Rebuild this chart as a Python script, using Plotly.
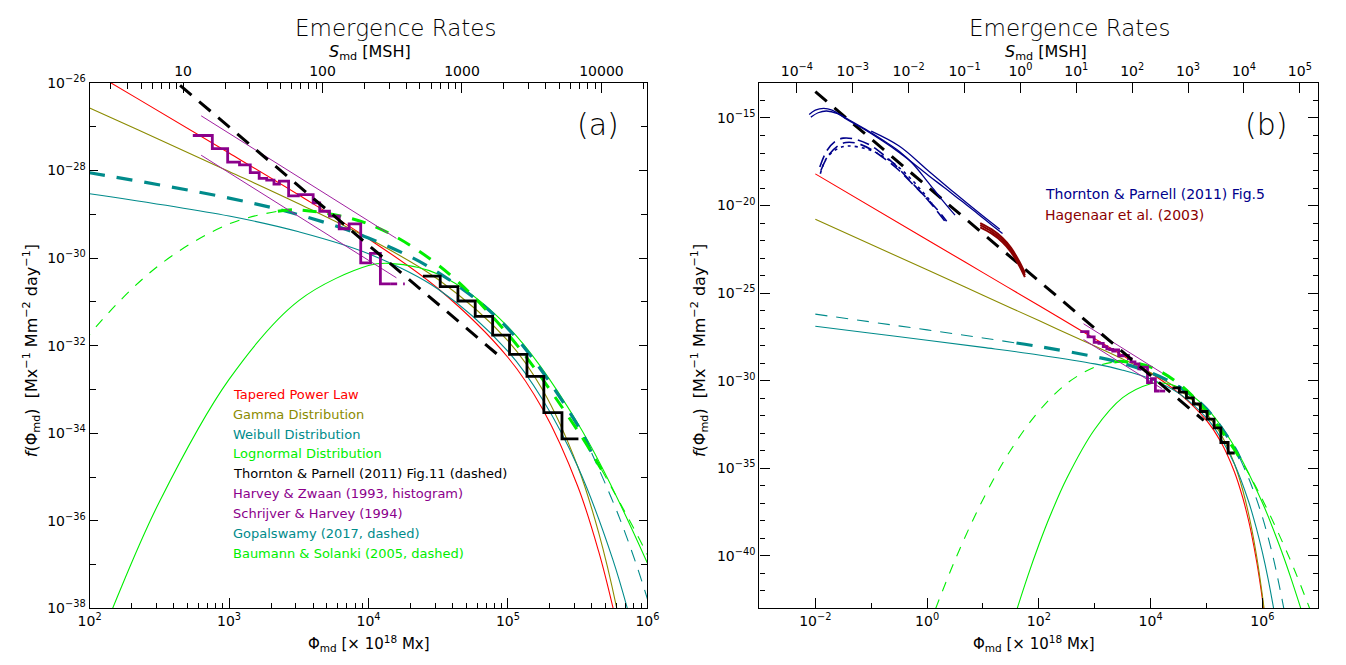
import plotly.graph_objects as go

W, H = 1346, 665
FONT = "DejaVu Sans"

# ---------------- values (log10 of Φ in 1e18 Mx, log10 of f) ----------------
# Tapered power law fit
tpl_log_phi = [-2.0, 0.0, 1.0, 2.0, 3.0, 3.5, 4.0, 4.5, 5.0, 5.25, 5.5, 5.65, 5.75, 5.8, 5.9, 6.0, 6.05]
tpl_log_f = [-18.19, -21.95, -23.83, -25.71, -27.60, -28.56, -29.56, -30.70, -32.27, -33.46, -35.21,
             -36.70, -37.95, -38.68, -40.38, -42.47, -43.69]
# Gamma distribution fit
gam_log_phi = [-2.0, 0.0, 1.0, 2.0, 3.0, 3.5, 4.0, 4.5, 5.0, 5.25, 5.5, 5.65, 5.78, 5.9, 6.0, 6.05]
gam_log_f = [-20.78, -23.67, -25.12, -26.57, -28.02, -28.76, -29.55, -30.49, -31.89, -33.02, -34.76,
             -36.27, -38.00, -40.08, -42.27, -43.55]
# Weibull distribution fit
wei_log_phi = [-2.0, -1.0, 0.0, 1.0, 2.0, 3.0, 3.5, 4.0, 4.5, 5.0, 5.25, 5.5, 5.75, 5.9, 6.0, 6.1, 6.2]
wei_log_f = [-26.89, -27.29, -27.69, -28.10, -28.53, -29.04, -29.40, -29.90, -30.71, -32.13, -33.24,
             -34.76, -36.87, -38.52, -39.81, -41.29, -42.99]
# Lognormal distribution fit
lgn_log_phi = [1.6, 1.8, 2.0, 2.2, 2.5, 3.0, 3.5, 4.0, 4.15, 4.5, 5.0, 5.5, 6.0, 6.3, 6.5, 6.7]
lgn_log_f = [-43.13, -41.17, -39.37, -37.73, -35.57, -32.77, -30.97, -30.17, -30.12, -30.37, -31.57,
             -33.77, -36.97, -39.37, -41.17, -43.13]
# Baumann & Solanki (2005); thick part = observed range
bs_log_phi = [0.15, 0.5, 1.0, 1.5, 2.0, 2.5, 3.0, 3.35, 3.5, 4.0, 4.5, 5.0, 5.5, 5.67, 6.0, 6.5, 6.85]
bs_log_f = [-43.04, -40.24, -36.78, -33.94, -31.74, -30.16, -29.22, -28.93, -28.90, -29.22, -30.16,
            -31.74, -33.94, -34.83, -36.78, -40.24, -43.04]
bs_range = (3.35, 5.67)
# Gopalswamy (2017); thick part = observed range
gop_log_phi = [-2.0, 0.0, 1.0, 1.6, 2.0, 3.0, 3.5, 4.0, 4.5, 5.0, 5.5, 5.6, 5.8, 6.0, 6.2, 6.4]
gop_log_f = [-26.20, -27.10, -27.56, -27.85, -28.05, -28.63, -29.01, -29.54, -30.33, -31.61, -33.82,
             -34.45, -35.94, -37.79, -40.19, -43.28]
gop_range = (1.6, 5.6)
# Thornton & Parnell (2011) Fig.11 power law
tp11_log_phi = [-2.0, 4.95]
tp11_log_f = [-13.50, -32.27]
# Schrijver & Harvey (1994) bounding lines
sh_log_phi = [2.8, 4.2]
sh_upper_log_f = [-26.75, -29.55]
sh_lower_log_f = [-27.65, -30.45]
# Harvey & Zwaan (1993) histogram
hz_edges = [2.74, 2.88, 2.99, 3.075, 3.152, 3.216, 3.27, 3.322, 3.361, 3.427, 3.497, 3.603, 3.65,
            3.72, 3.79, 3.861, 3.944, 4.014, 4.085, 4.155]
hz_levels = [-27.20, -27.50, -27.81, -27.87, -28.05, -28.18, -28.22, -28.31, -28.24, -28.58, -28.55,
             -28.74, -28.93, -29.04, -29.33, -29.22, -30.11, -29.89, -30.59]
hz_tail_log_phi = [4.155, 4.26]
hz_tail_log_f = [-30.59, -30.59]
# Large-region histogram (black staircase)
st_edges = [4.39, 4.514, 4.641, 4.765, 4.89, 5.011, 5.136, 5.257, 5.387, 5.505]
st_levels = [-30.41, -30.65, -30.98, -31.33, -31.76, -32.20, -32.70, -33.53, -34.13]
# Thornton & Parnell (2011) Fig.5 curves
tp5_a_log_phi = [-2.11, -2.0, -1.85, -1.7, -1.45, -1.15, -0.85, -0.55, -0.26, 0.03, 0.3, 0.6, 0.9, 1.15, 1.35]
tp5_a_log_f = [-14.80, -14.55, -14.45, -14.55, -15.05, -15.60, -16.20, -16.85, -17.55, -18.30, -18.95,
               -19.70, -20.45, -21.10, -21.60]
tp5_b_log_phi = [-2.08, -1.95, -1.8, -1.6, -1.4, -1.1, -0.8, -0.5, -0.26, 0.0, 0.25, 0.5]
tp5_b_log_f = [-14.95, -14.70, -14.60, -14.75, -15.10, -15.65, -16.25, -16.90, -17.60, -18.60, -19.60, -20.55]
tp5_c_log_phi = [-1.0, -0.5, 0.0, 0.5, 1.0, 1.3]
tp5_c_log_f = [-15.75, -16.60, -17.95, -19.30, -20.60, -21.35]
tp5_d_log_phi = [-1.91, -1.8, -1.6, -1.41, -1.1, -0.855, -0.55, -0.264, 0.088]
tp5_d_log_f = [-18.18, -17.30, -16.75, -16.60, -16.75, -17.07, -17.70, -18.56, -19.85]
tp5_e_log_phi = [-1.92, -1.8, -1.65, -1.5, -1.3, -1.05, -0.8, -0.55, -0.3, -0.05, 0.15, 0.32]
tp5_e_log_f = [-17.80, -16.90, -16.35, -16.15, -16.20, -16.50, -17.05, -17.75, -18.60, -19.45, -20.20, -20.90]
tp5_f_log_phi = [-1.9, -1.78, -1.6, -1.45, -1.25, -1.0, -0.75, -0.5, -0.25, 0.0, 0.2, 0.35]
tp5_f_log_f = [-18.00, -17.20, -16.60, -16.40, -16.45, -16.80, -17.35, -18.00, -18.80, -19.60, -20.30, -20.90]
# Hagenaar et al. (2003)
hag_log_phi = [0.95, 1.15, 1.35, 1.5, 1.65, 1.75]
hag_log_f = [-21.00, -21.35, -21.85, -22.40, -23.20, -23.85]
hag_offsets = [0.0, -0.12, -0.24]

# log10(Φ / S) relating the two horizontal scales
phi_per_msh_log = 1.67

RED, OLIVE, TEAL, GREEN = "#ff0000", "#8b8b00", "#008b8b", "#00ee00"
PURPLE, PURPLE_T, NAVY, DRED = "#8b008b", "#a020a0", "#00008b", "#8b0000"


def pw(v):
    return [10.0 ** a for a in v]


fig = go.Figure()
PANELS = [("x", "y"), ("x2", "y2")]


def line(xs, ys, color, width, axes, dash="solid", shape="spline"):
    fig.add_trace(go.Scatter(x=pw(xs), y=pw(ys), mode="lines", xaxis=axes[0], yaxis=axes[1],
                             line=dict(color=color, width=width, dash=dash, shape=shape,
                                       smoothing=1.0 if shape == "spline" else None),
                             hoverinfo="skip", showlegend=False))


def split(xs, ys, rng):
    lo, hi = rng
    a = [(x, y) for x, y in zip(xs, ys) if x <= lo]
    b = [(x, y) for x, y in zip(xs, ys) if lo <= x <= hi]
    c = [(x, y) for x, y in zip(xs, ys) if x >= hi]
    return [list(zip(*s)) for s in (a, b, c)]


for ax in PANELS:
    line(tpl_log_phi, tpl_log_f, RED, 1.1, ax)
    line(gam_log_phi, gam_log_f, OLIVE, 1.1, ax)
    line(wei_log_phi, wei_log_f, TEAL, 1.1, ax)
    line(lgn_log_phi, lgn_log_f, GREEN, 1.1, ax)
    g_lo, g_mid, g_hi = split(gop_log_phi, gop_log_f, gop_range)
    line(g_lo[0], g_lo[1], TEAL, 1.1, ax, dash="12px,9px")
    line(g_hi[0], g_hi[1], TEAL, 1.1, ax, dash="12px,9px")
    line(g_mid[0], g_mid[1], TEAL, 3.2, ax, dash="16px,12px")
    b_lo, b_mid, b_hi = split(bs_log_phi, bs_log_f, bs_range)
    line(b_lo[0], b_lo[1], GREEN, 1.1, ax, dash="10px,9px")
    line(b_hi[0], b_hi[1], GREEN, 1.1, ax, dash="10px,9px")
    line(b_mid[0], b_mid[1], GREEN, 3.0, ax, dash="14px,11px")
    line(sh_log_phi, sh_upper_log_f, PURPLE_T, 1.0, ax, shape="linear")
    line(sh_log_phi, sh_lower_log_f, PURPLE_T, 1.0, ax, shape="linear")
    line(hz_edges, hz_levels + [hz_levels[-1]], PURPLE, 2.8, ax, shape="hv")
    line(hz_tail_log_phi, hz_tail_log_f, PURPLE, 2.8, ax, dash="7px,6px", shape="linear")
    line(st_edges, st_levels + [st_levels[-1]], "#000000", 2.8, ax, shape="hv")
    line(tp11_log_phi, tp11_log_f, "#000000", 3.0, ax, dash="15px,10px", shape="linear")

R = ("x2", "y2")
line(tp5_a_log_phi, tp5_a_log_f, NAVY, 1.3, R)
line(tp5_b_log_phi, tp5_b_log_f, NAVY, 1.3, R)
line(tp5_c_log_phi, tp5_c_log_f, NAVY, 1.3, R)
line(tp5_d_log_phi, tp5_d_log_f, NAVY, 1.6, R, dash="3px,4px")
line(tp5_e_log_phi, tp5_e_log_f, NAVY, 1.6, R, dash="12px,6px")
line(tp5_f_log_phi, tp5_f_log_f, NAVY, 1.6, R, dash="12px,6px")
for off in hag_offsets:
    line(hag_log_phi, [v + off for v in hag_log_f], DRED, 2.0, R)

# invisible anchors so the top (MSH) axes are drawn
fig.add_trace(go.Scatter(x=[100], y=[1e-30], xaxis="x3", yaxis="y", mode="markers",
                         marker=dict(opacity=0), hoverinfo="skip", showlegend=False))
fig.add_trace(go.Scatter(x=[1], y=[1e-30], xaxis="x4", yaxis="y2", mode="markers",
                         marker=dict(opacity=0), hoverinfo="skip", showlegend=False))


def sup(e):
    s = str(e).replace("-", "\u2212")
    return f"10<sup>{s}</sup>"


tick_font = dict(family=FONT, size=14, color="#000000")
base = dict(type="log", showline=True, linecolor="#000000", linewidth=1.3, ticks="inside",
            tickcolor="#000000", tickwidth=1.2, showgrid=False, zeroline=False, tickfont=tick_font)

dom_l = [79 / W, 647 / W]
dom_r = [761 / W, 1330 / W]
dom_y = [1 - 615 / H, 1 - 75 / H]

fig.update_layout(
    width=W, height=H, margin=dict(l=0, r=0, t=0, b=0), autosize=False,
    paper_bgcolor="white", plot_bgcolor="white", showlegend=False,
    xaxis=dict(base, domain=dom_l, anchor="y", range=[2, 6], ticklen=10,
               tickmode="array", tickvals=[10.0 ** e for e in range(2, 7)],
               ticktext=[sup(e) for e in range(2, 7)],
               minor=dict(tickmode="array", ticks="inside", ticklen=5, tickcolor="#000000",
                          tickvals=[m * 10.0 ** e for e in range(2, 6) for m in range(2, 10)])),
    yaxis=dict(base, domain=dom_y, anchor="x", range=[-38, -26], ticklen=8, mirror="ticks",
               tickmode="array", tickvals=[10.0 ** e for e in range(-38, -25, 2)],
               ticktext=[sup(e) for e in range(-38, -25, 2)],
               minor=dict(tickmode="array", ticks="inside", ticklen=6, tickcolor="#000000",
                          tickvals=[10.0 ** e for e in range(-37, -26, 2)])),
    xaxis3=dict(base, overlaying="x", side="top", anchor="y",
                range=[2 - phi_per_msh_log, 6 - phi_per_msh_log], ticklen=10,
                tickmode="array", tickvals=[10, 100, 1000, 10000],
                ticktext=["10", "100", "1000", "10000"],
                minor=dict(tickmode="array", ticks="inside", ticklen=6, tickcolor="#000000",
                           tickvals=[m * 10.0 ** e for e in range(0, 5) for m in range(2, 10)])),
    xaxis2=dict(base, domain=dom_r, anchor="y2", range=[-3, 7], ticklen=10,
                tickmode="array", tickvals=[10.0 ** e for e in range(-2, 7, 2)],
                ticktext=[sup(e) for e in range(-2, 7, 2)],
                minor=dict(tickmode="array", ticks="inside", ticklen=5, tickcolor="#000000",
                           tickvals=[10.0 ** e for e in range(-1, 7, 2)])),
    yaxis2=dict(base, domain=dom_y, anchor="x2", range=[-43, -13], ticklen=10, mirror="ticks",
                tickmode="array", tickvals=[10.0 ** e for e in range(-40, -14, 5)],
                ticktext=[sup(e) for e in range(-40, -14, 5)],
                minor=dict(tickmode="array", ticks="inside", ticklen=5, tickcolor="#000000",
                           tickvals=[10.0 ** e for e in range(-42, -13) if e % 5 != 0])),
    xaxis4=dict(base, overlaying="x2", side="top", anchor="y2",
                range=[-3 - phi_per_msh_log, 7 - phi_per_msh_log], ticklen=10,
                tickmode="array", tickvals=[10.0 ** e for e in range(-4, 6)],
                ticktext=[sup(e) for e in range(-4, 6)]),
)


def note(x, y, text, size=14, color="#000000", xanchor="center", angle=0, weight=None):
    font = dict(family=FONT, size=size, color=color)
    if weight:
        font["weight"] = weight
    fig.add_annotation(x=x / W, y=1 - y / H, xref="paper", yref="paper", text=text,
                       showarrow=False, xanchor=xanchor, yanchor="middle", textangle=angle,
                       font=font)


ytitle = ("<i>f</i>(\u03a6<sub>md</sub>)  [Mx<sup>\u22121</sup> Mm<sup>\u22122</sup> "
          "day<sup>\u22121</sup>]")
xtitle = "\u03a6<sub>md</sub> [\u00d7 10<sup>18</sup> Mx]"
stitle = "<i>S</i><sub>md</sub> [MSH]"
for cx, sx, bx, yx in [(391, 365, 363, 20), (1077, 1053, 1041, 700)]:
    note(cx, 19, "Emergence Rates", size=23, weight=200)
    note(sx, 44, stitle, size=16)
    note(bx, 651, xtitle, size=15)
    note(yx, 350, ytitle, size=16, angle=-90)
note(597, 118, "(a)", size=30, weight=200)
note(1277, 118, "(b)", size=30, weight=200)

legend_rows = [
    ("Tapered Power Law", RED),
    ("Gamma Distribution", OLIVE),
    ("Weibull Distribution", TEAL),
    ("Lognormal Distribution", GREEN),
    ("Thornton &amp; Parnell (2011) Fig.11 (dashed)", "#000000"),
    ("Harvey &amp; Zwaan (1993, histogram)", PURPLE),
    ("Schrijver &amp; Harvey (1994)", PURPLE),
    ("Gopalswamy (2017, dashed)", TEAL),
    ("Baumann &amp; Solanki (2005, dashed)", GREEN),
]
for i, (txt, col) in enumerate(legend_rows):
    note(223, 395 + 20.4 * i, txt, size=13, color=col, xanchor="left")
note(1050, 189, "Thornton &amp; Parnell (2011) Fig.5", size=14, color=NAVY, xanchor="left")
note(1050, 211, "Hagenaar et al. (2003)", size=14, color=DRED, xanchor="left")

fig.write_html("out.html")
